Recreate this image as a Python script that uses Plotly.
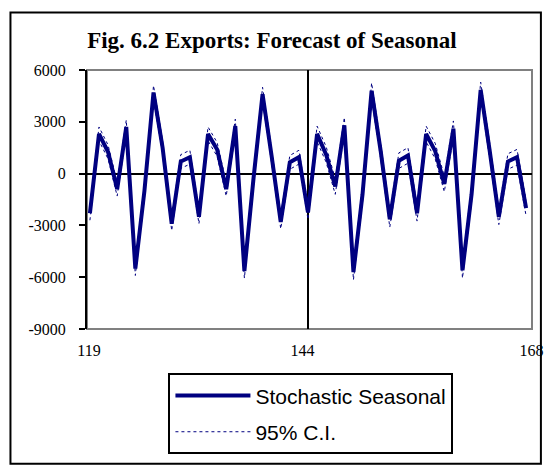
import plotly.graph_objects as go

# ---- data ----
periods = list(range(119, 168))
seasonal = [-2300, 2300, 1250, -900, 2700, -5500, -1000, 4700, 1500, -2900, 700, 950,
            -2500, 2300, 1400, -900, 2750, -5650, -300, 4600, 1000, -2800, 650, 950,
            -2250, 2300, 1100, -750, 2800, -5700, -1200, 4800, 1300, -2650, 750, 1050,
            -2300, 2300, 1300, -600, 2600, -5600, -1200, 4850, 1300, -2500, 700, 950,
            -2000]
ci_upper = [-1900, 2700, 1650, -500, 3100, -5100, -600, 5100, 1900, -2500, 1100, 1350,
            -2100, 2700, 1800, -500, 3150, -5250, 100, 5000, 1400, -2400, 1050, 1350,
            -1850, 2750, 1550, -300, 3250, -5250, -750, 5250, 1750, -2200, 1200, 1500,
            -1850, 2750, 1750, -150, 3050, -5150, -750, 5300, 1750, -2050, 1150, 1400,
            -1550]
ci_lower = [-2700, 1900, 850, -1300, 2300, -5900, -1400, 4300, 1100, -3300, 300, 550,
            -2900, 1900, 1000, -1300, 2350, -6050, -700, 4200, 600, -3200, 250, 550,
            -2650, 1850, 650, -1200, 2350, -6150, -1650, 4350, 850, -3100, 300, 600,
            -2750, 1850, 850, -1050, 2150, -6050, -1650, 4400, 850, -2950, 250, 500,
            -2450]
forecast_origin = 143
x_tick_text = ["119", "144", "168"]
x_tick_pos = [118.9, 142.4, 167.6]
y_ticks = [-9000, -6000, -3000, 0, 3000, 6000]
y_tick_text = ["-9000", "-6000", "-3000", "0", "3000", "6000"]

NAVY = "#000080"
SERIF = "Liberation Serif, Times New Roman, serif"
SANS = "Liberation Sans, Arial, sans-serif"

fig = go.Figure()
fig.add_trace(go.Scatter(x=periods, y=seasonal, mode="lines", name="Stochastic Seasonal",
                         legendgroup="a", line=dict(color=NAVY, width=4)))
fig.add_trace(go.Scatter(x=periods, y=ci_upper, mode="lines", name="95% C.I.",
                         legendgroup="b", line=dict(color=NAVY, width=1, dash="3px,3px")))
fig.add_trace(go.Scatter(x=periods, y=ci_lower, mode="lines", name="95% C.I. lower",
                         legendgroup="b", showlegend=False,
                         line=dict(color=NAVY, width=1, dash="3px,3px")))

# plot-area border (grey)
fig.add_shape(type="rect", xref="paper", yref="paper", x0=0, x1=1, y0=0, y1=1,
              line=dict(color="#808080", width=2), layer="below")
# vertical axis crossing line
fig.add_shape(type="line", xref="x", yref="paper", x0=forecast_origin, x1=forecast_origin,
              y0=0, y1=1, line=dict(color="black", width=2), layer="below")
# outer chart frame
fig.add_shape(type="rect", xref="paper", yref="paper", x0=-0.172, x1=1.02, y0=-0.52, y1=1.222,
              line=dict(color="black", width=2))

fig.update_layout(
    width=556, height=466,
    margin=dict(l=87, r=16, t=70, b=133),
    paper_bgcolor="white", plot_bgcolor="white",
    title=dict(text="<b>Fig. 6.2 Exports: Forecast of Seasonal</b>",
               x=0.489, xanchor="center", y=1 - 40 / 466, yanchor="middle", yref="container",
               font=dict(family=SERIF, size=23, color="black")),
    xaxis=dict(range=[118.68, 167.65], tickmode="array", tickvals=x_tick_pos,
               ticktext=x_tick_text, showgrid=False, zeroline=False, showline=False,
               ticks="", ticklabelstandoff=10,
               tickfont=dict(family=SERIF, size=16, color="black")),
    yaxis=dict(range=[-9000, 6000], tickmode="array", tickvals=y_ticks, ticktext=y_tick_text,
               showgrid=False, zeroline=True, zerolinecolor="black", zerolinewidth=2,
               showline=True, linecolor="black", linewidth=2,
               ticks="outside", ticklen=6, tickwidth=2, tickcolor="black",
               ticklabelstandoff=10,
               tickfont=dict(family=SERIF, size=16, color="black")),
    legend=dict(x=0.183, xanchor="left", y=-0.171, yanchor="top",
                bordercolor="black", borderwidth=2, bgcolor="white",
                itemwidth=75, tracegroupgap=6,
                font=dict(family=SANS, size=21, color="black")),
    showlegend=True,
)

fig.write_html("out.html", post_script="document.body.style.margin='0';",
               config={"displayModeBar": False})
